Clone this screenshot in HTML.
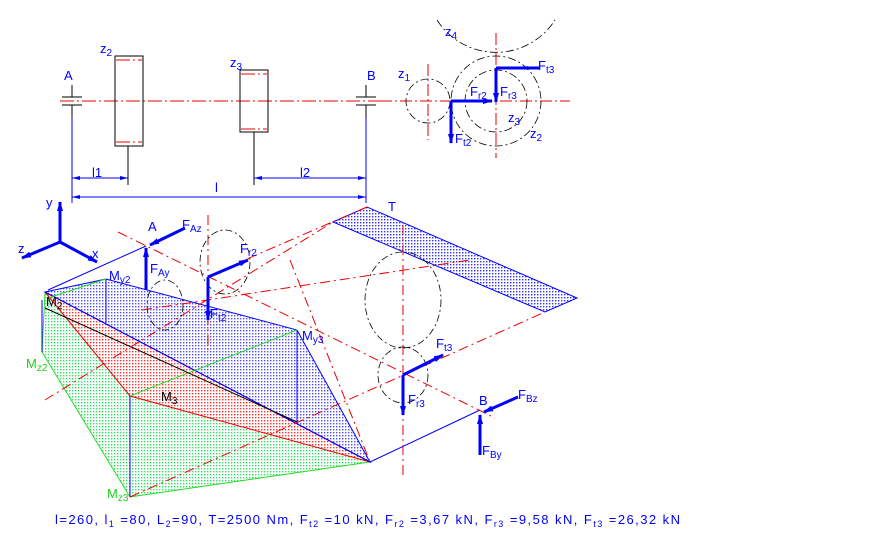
<!DOCTYPE html>
<html><head><style>
html,body{margin:0;padding:0;background:#fff;}
svg{display:block;}
text{font-family:"Liberation Sans",sans-serif;fill:#0000ff;font-size:13px;}
</style></head><body>
<svg width="884" height="539" viewBox="0 0 884 539" xmlns="http://www.w3.org/2000/svg">
<defs>
<pattern id="pb" width="3" height="3" patternUnits="userSpaceOnUse"><rect width="3" height="3" fill="#fff"/><rect width="1.4" height="1.4" fill="#3030ff"/></pattern>
<pattern id="pg" width="3" height="3" patternUnits="userSpaceOnUse"><rect width="3" height="3" fill="#fff"/><rect width="1.4" height="1.4" fill="#33dd66"/></pattern>
<pattern id="pr" width="3" height="3" patternUnits="userSpaceOnUse"><rect width="3" height="3" fill="#fff"/><rect width="1.4" height="1.4" fill="#ff3333"/></pattern>
<marker id="ar" markerWidth="10" markerHeight="6" refX="9" refY="3" orient="auto" markerUnits="userSpaceOnUse"><path d="M0,0 L10,3 L0,6z" fill="#0000ff"/></marker>
<marker id="sm" markerWidth="8" markerHeight="4" refX="0" refY="2" orient="auto" markerUnits="userSpaceOnUse"><path d="M0,2 L8,0 L8,4z" fill="#0000ff"/></marker>
<marker id="em" markerWidth="8" markerHeight="4" refX="8" refY="2" orient="auto" markerUnits="userSpaceOnUse"><path d="M8,2 L0,0 L0,4z" fill="#0000ff"/></marker>
</defs>

<g stroke="#ee0000" stroke-width="1" stroke-dasharray="14,3,2,3" fill="none">
<line x1="60" y1="101" x2="390" y2="101"/>
<line x1="116" y1="60" x2="142" y2="60"/><line x1="116" y1="142" x2="142" y2="142"/>
<line x1="241" y1="74" x2="267" y2="74"/><line x1="241" y1="129" x2="267" y2="129"/>
</g>
<rect x="115" y="56" width="28" height="90" fill="none" stroke="#000"/>
<rect x="240" y="70" width="28" height="62" fill="none" stroke="#000"/>
<g stroke="#000">
<line x1="62" y1="97" x2="82" y2="97"/><line x1="62" y1="105" x2="82" y2="105"/><line x1="72" y1="85" x2="72" y2="97"/><line x1="72" y1="105" x2="72" y2="117"/>
<line x1="356" y1="97" x2="376" y2="97"/><line x1="356" y1="105" x2="376" y2="105"/><line x1="366" y1="85" x2="366" y2="97"/><line x1="366" y1="105" x2="366" y2="118"/>
<line x1="128" y1="146" x2="128" y2="185"/><line x1="254" y1="132" x2="254" y2="185"/>
</g>
<g stroke="#0000ff" fill="none">
<line x1="72" y1="117" x2="72" y2="203"/><line x1="366" y1="118" x2="366" y2="203"/>
<line x1="72" y1="178" x2="128" y2="178" marker-start="url(#sm)" marker-end="url(#em)"/>
<line x1="254" y1="178" x2="366" y2="178" marker-start="url(#sm)" marker-end="url(#em)"/>
<line x1="72" y1="197" x2="366" y2="197" marker-start="url(#sm)" marker-end="url(#em)"/>
</g>
<text x="64" y="80">A</text><text x="100" y="53">z<tspan font-size="10" dy="3">2</tspan></text>
<text x="230" y="67">z<tspan font-size="10" dy="3">3</tspan></text><text x="367" y="80">B</text>
<text x="92" y="177" font-size="15">l1</text><text x="300" y="177" font-size="15">l2</text><text x="215" y="192" font-size="15">l</text>

<g stroke="#ee0000" stroke-dasharray="12,3,2,3" fill="none">
<line x1="380" y1="101" x2="570" y2="101"/><line x1="428" y1="64" x2="428" y2="140"/><line x1="496" y1="33" x2="496" y2="158"/>
</g>
<g stroke="#000" stroke-dasharray="8,3,2,3" fill="none" stroke-width="0.8">
<circle cx="428" cy="101" r="22"/><circle cx="496" cy="101" r="45"/><circle cx="496" cy="101" r="31"/>
<path d="M437,20 A70,70 0 0 0 555,20"/>
</g>
<g stroke="#0000ff" stroke-width="3" fill="none">
<line x1="496" y1="68" x2="540" y2="68"/><line x1="496" y1="68" x2="496" y2="102" marker-end="url(#ar)"/>
<line x1="520" y1="68" x2="540" y2="68" marker-start="url(#sm)"/>
<line x1="451" y1="101" x2="492" y2="101" marker-end="url(#ar)"/>
<line x1="451" y1="101" x2="451" y2="143" marker-end="url(#ar)"/>
</g>
<text x="445" y="36">z<tspan font-size="10" dy="3">4</tspan></text><text x="398" y="78">z<tspan font-size="10" dy="3">1</tspan></text>
<text x="538" y="70">F<tspan font-size="10" dy="3">t3</tspan></text><text x="470" y="96">F<tspan font-size="10" dy="3">r2</tspan></text>
<text x="500" y="96">F<tspan font-size="10" dy="3">r3</tspan></text><text x="508" y="122">z<tspan font-size="10" dy="3">3</tspan></text>
<text x="530" y="138">z<tspan font-size="10" dy="3">2</tspan></text><text x="455" y="143">F<tspan font-size="10" dy="3">t2</tspan></text>

<polygon points="333,222 367,207 577,298 545,312" fill="url(#pb)" stroke="#0000ff"/>
<polygon points="45,292 42,352 130,497 370,462" fill="url(#pg)" stroke="#22dd22"/>
<polygon points="45,292 130,396 370,462" fill="url(#pr)" stroke="#ee0000"/>
<polygon points="45,292 106,279 297,330 370,462" fill="url(#pb)" fill-opacity="0.85" stroke="#0000ff"/>
<g stroke="#0000ff" fill="none">
<line x1="45" y1="292" x2="370" y2="462"/>
<line x1="106" y1="279" x2="106" y2="323"/><line x1="297" y1="330" x2="297" y2="422"/>
<line x1="42" y1="300" x2="42" y2="352"/><line x1="130" y1="396" x2="130" y2="497"/>
<line x1="48" y1="290" x2="146" y2="246"/><line x1="370" y1="462" x2="480" y2="410"/>
</g>
<line x1="48" y1="298" x2="106" y2="279" stroke="#22dd22"/>
<line x1="130" y1="396" x2="297" y2="330" stroke="#22dd22"/>
<line x1="45" y1="308" x2="297" y2="422" stroke="#000"/>
<g stroke="#ee0000" stroke-dasharray="10,4,2,4" fill="none">
<line x1="118" y1="232" x2="495" y2="418"/>
<line x1="208" y1="215" x2="208" y2="350"/><line x1="403" y1="225" x2="403" y2="475"/>
<line x1="45" y1="400" x2="333" y2="222"/><line x1="142" y1="310" x2="470" y2="260"/>
<line x1="130" y1="497" x2="545" y2="312"/><line x1="290" y1="260" x2="370" y2="462"/>
<line x1="367" y1="207" x2="240" y2="262"/>
</g>
<g stroke="#000" stroke-dasharray="7,3,2,3" fill="none" stroke-width="0.8">
<ellipse cx="403" cy="300" rx="38" ry="48"/><ellipse cx="403" cy="375" rx="25" ry="28"/>
<ellipse cx="165" cy="305" rx="18" ry="25"/><ellipse cx="225" cy="262" rx="25" ry="32"/>
</g>
<g stroke="#0000ff" stroke-width="3" fill="none">
<line x1="60" y1="242" x2="60" y2="202" marker-end="url(#ar)"/>
<line x1="60" y1="242" x2="22" y2="258" marker-end="url(#ar)"/>
<line x1="60" y1="242" x2="97" y2="262" marker-end="url(#ar)"/>
<line x1="185" y1="228" x2="150" y2="245" marker-end="url(#ar)"/>
<line x1="146" y1="290" x2="146" y2="248" marker-end="url(#ar)"/>
<line x1="208" y1="277" x2="248" y2="260" marker-end="url(#ar)"/>
<line x1="208" y1="277" x2="208" y2="320" marker-end="url(#ar)"/>
<line x1="403" y1="375" x2="443" y2="355" marker-end="url(#ar)"/>
<line x1="403" y1="375" x2="403" y2="415" marker-end="url(#ar)"/>
<line x1="518" y1="397" x2="484" y2="412" marker-end="url(#ar)"/>
<line x1="480" y1="455" x2="480" y2="415" marker-end="url(#ar)"/>
</g>
<text x="46" y="207">y</text><text x="18" y="253">z</text><text x="92" y="258">x</text>
<text x="148" y="231">A</text><text x="182" y="229">F<tspan font-size="10" dy="3">Az</tspan></text>
<text x="150" y="273">F<tspan font-size="10" dy="3">Ay</tspan></text>
<text x="240" y="253">F<tspan font-size="10" dy="3">r2</tspan></text><text x="210" y="318">F<tspan font-size="10" dy="3">t2</tspan></text>
<text x="109" y="280">M<tspan font-size="10" dy="3">y2</tspan></text><text x="302" y="340">M<tspan font-size="10" dy="3">y3</tspan></text>
<text x="46" y="306" style="fill:#000">M<tspan font-size="10" dy="3">2</tspan></text>
<text x="161" y="401" style="fill:#000">M<tspan font-size="10" dy="3">3</tspan></text>
<text x="26" y="368" style="fill:#22cc22">M<tspan font-size="10" dy="3">z2</tspan></text>
<text x="107" y="498" style="fill:#22cc22">M<tspan font-size="10" dy="3">z3</tspan></text>
<text x="388" y="211">T</text>
<text x="436" y="348">F<tspan font-size="10" dy="3">t3</tspan></text><text x="408" y="404">F<tspan font-size="10" dy="3">r3</tspan></text>
<text x="479" y="405">B</text><text x="518" y="399">F<tspan font-size="10" dy="3">Bz</tspan></text>
<text x="482" y="455">F<tspan font-size="10" dy="3">By</tspan></text>
<text x="55" y="524" font-size="12" textLength="625" lengthAdjust="spacing">l=260, l<tspan font-size="9" dy="3">1</tspan><tspan dy="-3"> =80, L</tspan><tspan font-size="9" dy="3">2</tspan><tspan dy="-3">=90, T=2500 Nm, F</tspan><tspan font-size="9" dy="3">t2</tspan><tspan dy="-3"> =10 kN, F</tspan><tspan font-size="9" dy="3">r2</tspan><tspan dy="-3"> =3,67 kN, F</tspan><tspan font-size="9" dy="3">r3</tspan><tspan dy="-3"> =9,58 kN, F</tspan><tspan font-size="9" dy="3">t3</tspan><tspan dy="-3"> =26,32 kN</tspan></text>
</svg>
</body></html>
